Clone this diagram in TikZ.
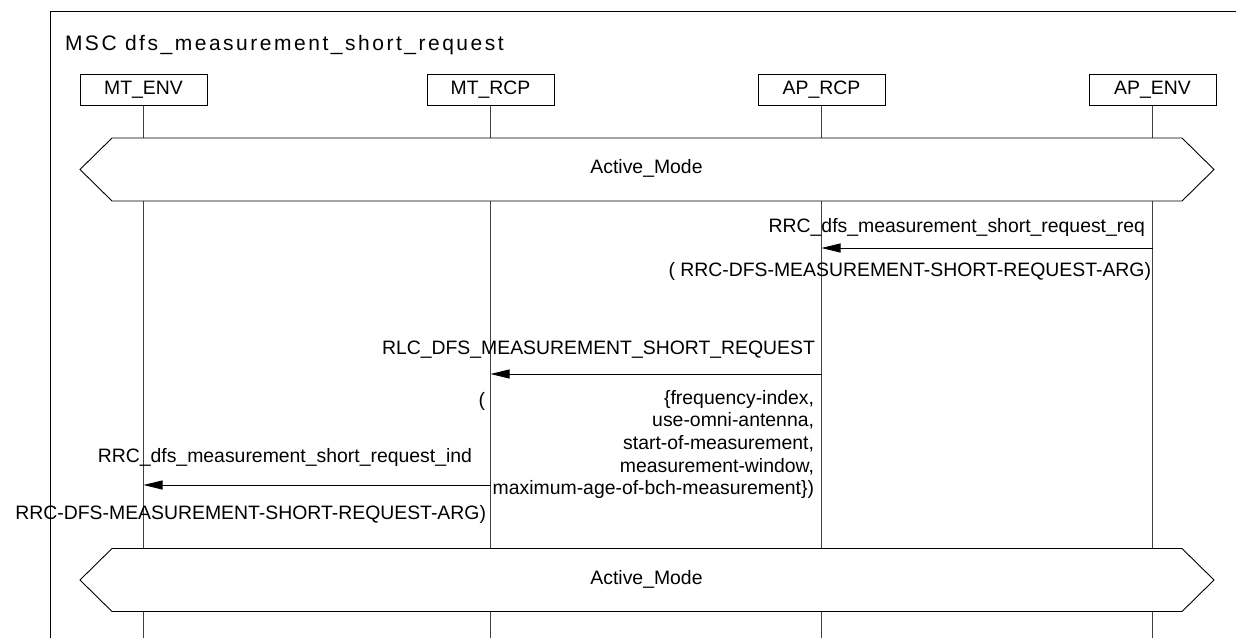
\documentclass[tikz,border=0pt]{standalone}
\usepackage{fontspec}
\setmainfont{Liberation Sans}
\newfontfamily\mscfont{Liberation Sans}
\newfontfamily\msctitlefont[LetterSpace=12]{Liberation Sans}
\usetikzlibrary{arrows.meta}
\begin{document}
\begin{tikzpicture}[x=1pt,y=-1pt,
  every node/.style={inner sep=0pt,outer sep=0pt},
  txt/.style={font=\mscfont\fontsize{19.4}{22.7}\selectfont},
  ttl/.style={font=\msctitlefont\fontsize{21}{25}\selectfont},
  inst/.style={txt,draw,line width=0.9pt,fill=white,minimum width=127pt,minimum height=31pt},
  life/.style={line width=0.9pt,draw=black!75},
  frame/.style={line width=0.9pt},
  hexa/.style={line width=0.9pt,fill=white},
  msg/.style={line width=0.9pt,-{Triangle[length=19pt,width=9pt]}}]
\useasboundingbox (0,0) rectangle (1236,637);
\clip (0,0) rectangle (1236,637);
\fill[white] (0,0) rectangle (1236,637);
% frame
\draw[frame] (50,645) -- (50,11) -- (1245,11);
\node[ttl,anchor=west] (title) at (65,45) {MSC dfs\_measurement\_short\_request};
% instances
\node[inst] (mtenv) at (143.5,90) {MT\_ENV};
\node[inst] (mtrcp) at (490.5,90) {MT\_RCP};
\node[inst] (aprcp) at (821.5,90) {AP\_RCP};
\node[inst] (apenv) at (1152.5,90) {AP\_ENV};
\coordinate (mtenvE) at (143.5,645);
\coordinate (mtrcpE) at (490.5,645);
\coordinate (aprcpE) at (821.5,645);
\coordinate (apenvE) at (1152.5,645);
\draw[life] (mtenv) -- (mtenvE);
\draw[life] (mtrcp) -- (mtrcpE);
\draw[life] (aprcp) -- (aprcpE);
\draw[life] (apenv) -- (apenvE);
% conditions
\draw[hexa] (80,169.5) -- (112,138) -- (1182,138) -- (1214,169.5) -- (1182,201) -- (112,201) -- cycle;
\node[txt] (am1) at (646.5,168.5) {Active\_Mode};
\draw[hexa] (80,580) -- (112,548.5) -- (1182,548.5) -- (1214,580) -- (1182,611.5) -- (112,611.5) -- cycle;
\node[txt] (am2) at (646.5,579.5) {Active\_Mode};
% message 1
\coordinate (m1s) at (1152.5,248);
\coordinate (m1e) at (821.5,248);
\draw[msg] (m1s) -- (m1e);
\node[txt,anchor=east] (m1l) at (1145,227) {RRC\_dfs\_measurement\_short\_request\_req};
\node[txt,anchor=east] (m1p) at (1151,271) {( RRC-DFS-MEASUREMENT-SHORT-REQUEST-ARG)};
% message 2
\coordinate (m2s) at (821.5,374);
\coordinate (m2e) at (490.5,374);
\draw[msg] (m2s) -- (m2e);
\node[txt,anchor=east] (m2l) at (815,350) {RLC\_DFS\_MEASUREMENT\_SHORT\_REQUEST};
\node[txt,anchor=east] (m2o) at (485,401) {(};
\node[txt,anchor=north east,align=right] (m2p) at (814,390) {\{frequency-index,\\use-omni-antenna,\\start-of-measurement,\\measurement-window,\\maximum-age-of-bch-measurement\})};
% message 3
\coordinate (m3s) at (490.5,485);
\coordinate (m3e) at (143.5,485);
\draw[msg] (m3s) -- (m3e);
\node[txt,anchor=east] (m3l) at (472,457) {RRC\_dfs\_measurement\_short\_request\_ind};
\node[txt,anchor=east] (m3p) at (486,514) {RRC-DFS-MEASUREMENT-SHORT-REQUEST-ARG)};
\end{tikzpicture}
\end{document}
